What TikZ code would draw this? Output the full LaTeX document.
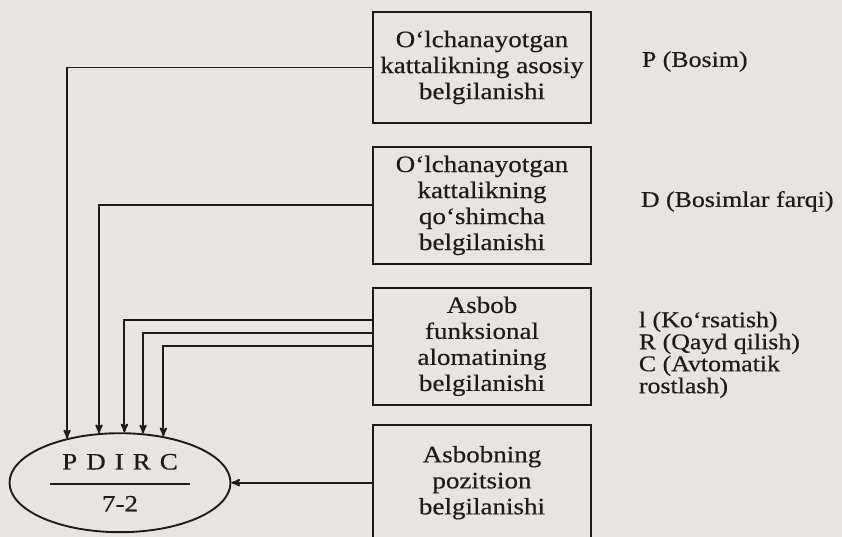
\documentclass[tikz,border=0pt]{standalone}
\usepackage{fontspec}
\setmainfont{Liberation Serif}[FakeStretch=1.15,FakeBold=0.5]
\usepackage{tikz}
\usetikzlibrary{shapes}
\usetikzlibrary{arrows}
\usetikzlibrary{positioning}
\definecolor{paper}{RGB}{233,228,224}
\definecolor{ink}{RGB}{30,27,26}
\tikzset{
  box node/.style={rectangle,draw,minimum width=218pt,inner sep=0pt,align=center,font=\fontsize{23.5}{26}\selectfont},
  main node/.style={ellipse,draw,minimum width=221pt,minimum height=99pt,inner sep=0pt,align=center,font=\fontsize{23.5}{26}\selectfont},
  side text/.style={align=left,inner sep=0pt,font=\fontsize{22.5}{22}\selectfont}
}

\begin{document}
\begin{tikzpicture}[->,>=stealth',x=1pt,y=-1pt,line width=1.9pt,color=ink]
    \fill[paper] (0,0) rectangle (842,537);
    \useasboundingbox (0,0) rectangle (842,537);
    \node [box node,minimum height=111pt] (asosiy) at (482,67.5) {O‘lchanayotgan\\kattalikning asosiy\\belgilanishi};
    \node [box node,minimum height=117pt,below=22pt of asosiy] (qoshimcha) {O‘lchanayotgan\\kattalikning\\qo‘shimcha\\belgilanishi};
    \node [box node,minimum height=117pt,below=22pt of qoshimcha] (funksiya) {Asbob\\funksional\\alomatining\\belgilanishi};
    \node [box node,minimum height=116pt,below=18pt of funksiya] (pozitsiya) {Asbobning\\pozitsion\\belgilanishi};
    \coordinate (ellipse col) at (120,0);
    \node [main node] (pdirc) at (ellipse col |- pozitsiya) {P\hspace{9pt}D\hspace{9pt}I\hspace{9pt}R\hspace{9pt}C\\[16pt]7-2};
    \draw [-] ([xshift=-70pt,yshift=-1pt]pdirc.center) -- ([xshift=70pt,yshift=-1pt]pdirc.center);
    \node [side text,right=49pt of asosiy,yshift=6pt] (bosim) {P (Bosim)};
    \node [side text,right=48pt of qoshimcha,yshift=4pt] (farq) {D (Bosimlar farqi)};
    \node [side text,right=46pt of funksiya,yshift=-8.5pt] (vazifa) {l (Ko‘rsatish)\\R (Qayd qilish)\\C (Avtomatik\\rostlash)};
    \draw (asosiy.west) -| (pdirc.140);
    \draw (qoshimcha.west) -| (pdirc.113);
    \draw ([yshift=26.5pt]funksiya.west) -| (pdirc.85);
    \draw ([yshift=13.5pt]funksiya.west) -| (pdirc.65);
    \draw (funksiya.west) -| (pdirc.47);
    \draw (pozitsiya.west) -- (pdirc.east);
\end{tikzpicture}
\end{document}
